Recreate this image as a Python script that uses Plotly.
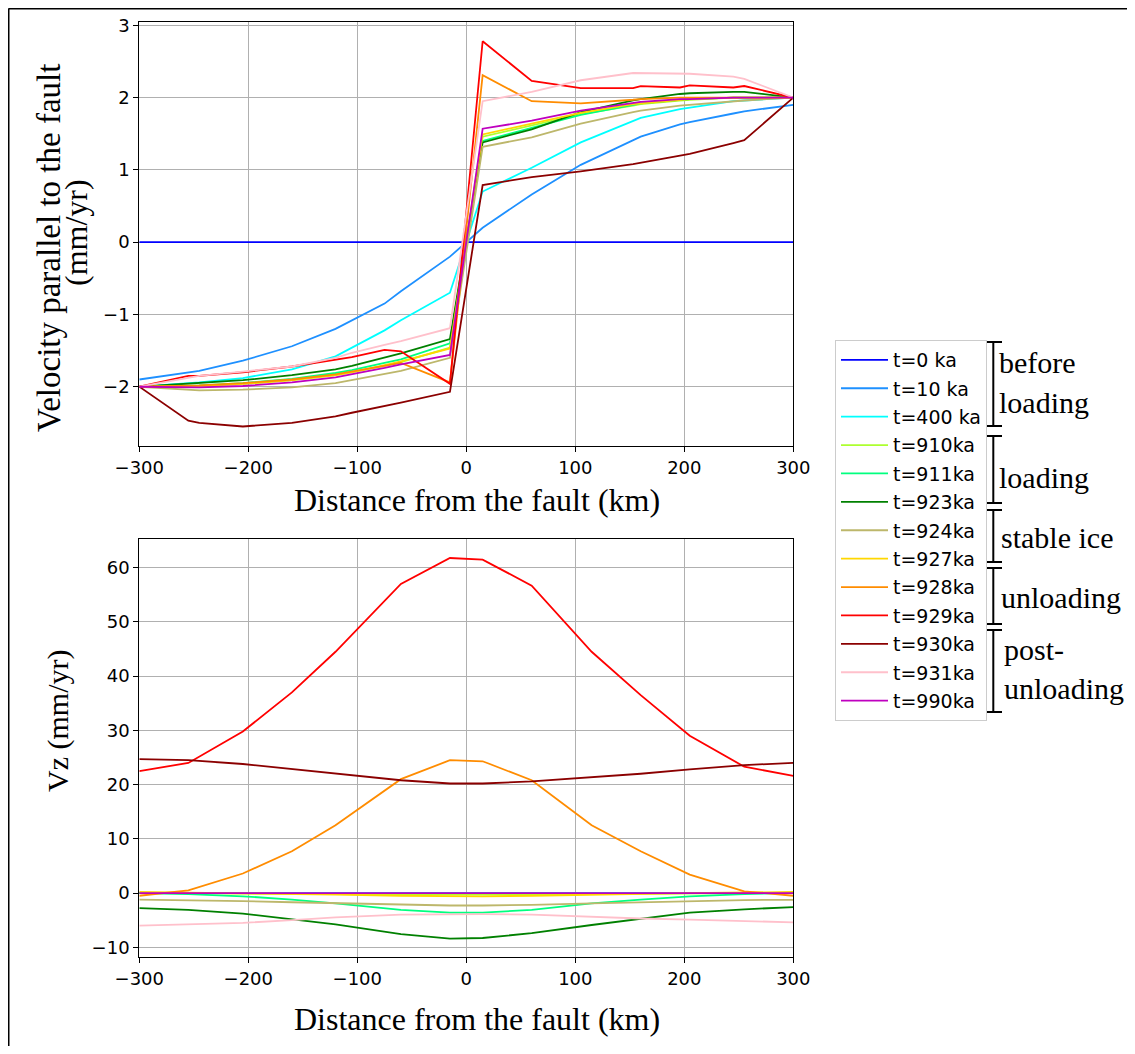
import plotly.graph_objects as go

# ---------------- data ----------------
x_top = [-300, -255, -245, -205, -160, -120, -105, -75, -60, -15,
         15, 60, 105, 153, 160, 196, 205, 245, 255, 300]
x_bot = [-300, -255, -205, -160, -120, -60, -15, 15, 60, 115, 160, 205, 255, 300]

labels = ["t=0 ka", "t=10 ka", "t=400 ka", "t=910ka", "t=911ka", "t=923ka",
          "t=924ka", "t=927ka", "t=928ka", "t=929ka", "t=930ka", "t=931ka", "t=990ka"]
colors = ["#0000FF", "#1E90FF", "#00FFFF", "#ADFF2F", "#00FF7F", "#008000",
          "#BDB76B", "#FFD700", "#FF8C00", "#FF0000", "#8B0000", "#FFC0CB", "#BF00BF"]

v_t0 = [0.0] * 20
v_t10 = [-1.90, -1.81, -1.78, -1.64, -1.44, -1.20, -1.08, -0.85, -0.68, -0.20,
         0.20, 0.66, 1.07, 1.42, 1.46, 1.63, 1.66, 1.78, 1.81, 1.90]
v_t400 = [-2.00, -1.95, -1.94, -1.88, -1.76, -1.58, -1.46, -1.22, -1.08, -0.70,
          0.70, 1.03, 1.38, 1.68, 1.72, 1.84, 1.86, 1.95, 1.96, 2.00]
v_t910 = [-2.00, -1.99, -1.99, -1.96, -1.91, -1.84, -1.80, -1.71, -1.66, -1.46,
          1.46, 1.62, 1.77, 1.89, 1.91, 1.96, 1.97, 2.00, 2.00, 2.00]
v_t911 = [-2.00, -1.98, -1.98, -1.95, -1.89, -1.81, -1.77, -1.67, -1.62, -1.40,
          1.40, 1.58, 1.76, 1.90, 1.92, 1.97, 1.98, 2.00, 2.00, 2.00]
v_t923 = [-2.00, -1.96, -1.95, -1.91, -1.84, -1.76, -1.71, -1.60, -1.54, -1.34,
          1.38, 1.56, 1.80, 1.96, 1.98, 2.05, 2.06, 2.08, 2.08, 2.00]
v_t924 = [-2.00, -2.04, -2.05, -2.04, -2.01, -1.95, -1.91, -1.83, -1.78, -1.60,
          1.32, 1.45, 1.64, 1.80, 1.82, 1.89, 1.90, 1.95, 1.96, 2.00]
v_t927 = [-2.00, -1.99, -1.99, -1.96, -1.91, -1.84, -1.80, -1.70, -1.65, -1.47,
          1.49, 1.64, 1.79, 1.91, 1.92, 1.97, 1.98, 2.00, 2.00, 2.00]
v_t928 = [-2.00, -1.98, -1.98, -1.95, -1.90, -1.83, -1.79, -1.70, -1.67, -1.94,
          2.31, 1.95, 1.92, 1.97, 1.98, 2.00, 2.00, 2.00, 2.00, 2.00]
v_t929 = [-2.00, -1.85, -1.85, -1.80, -1.72, -1.62, -1.59, -1.49, -1.51, -1.96,
          2.78, 2.23, 2.13, 2.13, 2.16, 2.14, 2.17, 2.14, 2.16, 2.00]
v_t930 = [-2.00, -2.47, -2.50, -2.55, -2.50, -2.41, -2.36, -2.27, -2.22, -2.07,
          0.79, 0.90, 0.98, 1.08, 1.10, 1.20, 1.22, 1.37, 1.41, 2.00]
v_t931 = [-2.00, -1.87, -1.85, -1.79, -1.72, -1.60, -1.53, -1.42, -1.37, -1.19,
          1.95, 2.08, 2.24, 2.34, 2.34, 2.33, 2.33, 2.29, 2.26, 2.00]
v_t990 = [-2.00, -2.01, -2.01, -1.99, -1.94, -1.87, -1.83, -1.74, -1.69, -1.56,
          1.57, 1.68, 1.82, 1.93, 1.94, 1.98, 1.98, 2.00, 2.00, 2.00]

vz_t0 = [0.0] * 14
vz_t10 = [0.0] * 14
vz_t400 = [0.0] * 14
vz_t910 = [0.0, -0.05, -0.1, -0.15, -0.2, -0.25, -0.3, -0.3, -0.25, -0.2, -0.15, -0.1, -0.05, 0.0]
vz_t911 = [0.0, -0.2, -0.6, -1.2, -1.9, -3.1, -3.6, -3.6, -3.1, -1.9, -1.2, -0.6, -0.2, 0.0]
vz_t923 = [-2.8, -3.1, -3.8, -4.8, -5.8, -7.6, -8.4, -8.3, -7.4, -5.9, -4.8, -3.6, -3.0, -2.6]
vz_t924 = [-1.2, -1.3, -1.5, -1.7, -1.9, -2.2, -2.3, -2.3, -2.2, -1.9, -1.7, -1.5, -1.3, -1.25]
vz_t927 = [0.2, 0.1, 0.0, -0.1, -0.3, -0.5, -0.6, -0.6, -0.5, -0.3, -0.1, 0.0, 0.1, 0.2]
vz_t928 = [-0.5, 0.5, 3.6, 7.7, 12.5, 21.0, 24.5, 24.3, 20.8, 12.5, 7.7, 3.4, 0.3, -0.5]
vz_t929 = [22.5, 24.0, 29.8, 37.0, 44.5, 57.0, 61.8, 61.5, 56.7, 44.5, 36.5, 29.0, 23.3, 21.6]
vz_t930 = [24.7, 24.5, 23.8, 22.9, 22.1, 20.8, 20.2, 20.2, 20.6, 21.3, 22.0, 22.8, 23.6, 24.0]
vz_t931 = [-6.0, -5.8, -5.5, -5.0, -4.5, -4.0, -3.9, -3.9, -4.0, -4.4, -4.7, -4.9, -5.1, -5.4]
vz_t990 = [0.0] * 14

top_series = [v_t0, v_t10, v_t400, v_t910, v_t911, v_t923, v_t924, v_t927,
              v_t928, v_t929, v_t930, v_t931, v_t990]
bot_series = [vz_t0, vz_t10, vz_t400, vz_t910, vz_t911, vz_t923, vz_t924, vz_t927,
              vz_t928, vz_t929, vz_t930, vz_t931, vz_t990]

groups = [(342, 426), (436, 503), (510, 562), (568, 624), (630, 712)]
bracket_texts = [("before", 997, 362), ("loading", 997, 402), ("loading", 997, 477),
                 ("stable ice", 999, 537), ("unloading", 999, 597),
                 ("post-", 1002, 649), ("unloading", 1002, 688)]

# ---------------- figure ----------------
# the page body has an 8px margin; screen pixel P maps to figure pixel P - OFF
OFF = 8
W, H = 1135 - 2 * OFF, 1054 - 2 * OFF
fig = go.Figure()


def px_x(p):
    return (p - OFF) / W


def px_y(p):
    return 1 - (p - OFF) / H


for i, (lab, col) in enumerate(zip(labels, colors)):
    fig.add_trace(go.Scatter(x=x_top, y=top_series[i], mode="lines", name=lab,
                             line=dict(color=col, width=1.8), legendgroup=str(i),
                             xaxis="x", yaxis="y"))
for i, (lab, col) in enumerate(zip(labels, colors)):
    fig.add_trace(go.Scatter(x=x_bot, y=bot_series[i], mode="lines", name=lab,
                             line=dict(color=col, width=1.8), legendgroup=str(i),
                             showlegend=False, xaxis="x2", yaxis="y2"))

tickfont = dict(family="DejaVu Sans", size=18, color="black")
axcommon = dict(showline=True, linecolor="black", linewidth=1.2, mirror=True,
                ticks="outside", ticklen=5, tickcolor="black", tickwidth=1.2,
                showgrid=True, gridcolor="#b0b0b0", gridwidth=1, zeroline=False,
                tickfont=tickfont, automargin=False)

x0, x1 = px_x(139.3), px_x(793.3)
fig.update_layout(
    width=W, height=H, autosize=False,
    margin=dict(l=0, r=0, t=0, b=0, pad=0),
    paper_bgcolor="white", plot_bgcolor="white",
    xaxis=dict(domain=[x0, x1], range=[-300, 300], dtick=100, anchor="y", **axcommon),
    yaxis=dict(domain=[px_y(446), px_y(21.7)], range=[-2.82, 3.05], dtick=1,
               anchor="x", **axcommon),
    xaxis2=dict(domain=[x0, x1], range=[-300, 300], dtick=100, anchor="y2", **axcommon),
    yaxis2=dict(domain=[px_y(957), px_y(539)], range=[-11.8, 65.3], dtick=10,
                anchor="x2", **axcommon),
    legend=dict(x=px_x(835), y=px_y(340), xanchor="left", yanchor="top",
                bgcolor="white", bordercolor="#cccccc", borderwidth=1,
                font=dict(family="DejaVu Sans", size=19, color="black"),
                tracegroupgap=0.7, itemwidth=47),
    showlegend=True,
)

serif = "Liberation Serif"
ann = []
ann.append(dict(text="Distance from the fault (km)", x=px_x(477), y=px_y(500),
                xref="paper", yref="paper", showarrow=False, xanchor="center",
                yanchor="middle", font=dict(family=serif, size=32, color="black")))
ann.append(dict(text="Distance from the fault (km)", x=px_x(477), y=px_y(1019),
                xref="paper", yref="paper", showarrow=False, xanchor="center",
                yanchor="middle", font=dict(family=serif, size=32, color="black")))
ann.append(dict(text="Velocity parallel to the fault", x=px_x(49), y=px_y(248),
                xref="paper", yref="paper", showarrow=False, textangle=-90,
                xanchor="center", yanchor="middle",
                font=dict(family=serif, size=33, color="black")))
ann.append(dict(text="(mm/yr)", x=px_x(76), y=px_y(233),
                xref="paper", yref="paper", showarrow=False, textangle=-90,
                xanchor="center", yanchor="middle",
                font=dict(family=serif, size=32, color="black")))
ann.append(dict(text="Vz (mm/yr)", x=px_x(58), y=px_y(721),
                xref="paper", yref="paper", showarrow=False, textangle=-90,
                xanchor="center", yanchor="middle",
                font=dict(family=serif, size=30, color="black")))

shapes = []
# figure frame (top and left edges)
shapes.append(dict(type="line", xref="paper", yref="paper", x0=px_x(8.5), x1=1,
                   y0=px_y(8.5), y1=px_y(8.5), line=dict(color="black", width=2)))
shapes.append(dict(type="line", xref="paper", yref="paper", x0=px_x(8.5), x1=px_x(8.5),
                   y0=px_y(8.5), y1=0, line=dict(color="black", width=2)))

bx = 993.3
for (ya, yb) in groups:
    shapes.append(dict(type="line", xref="paper", yref="paper", x0=px_x(bx), x1=px_x(bx),
                       y0=px_y(ya), y1=px_y(yb), line=dict(color="black", width=2)))
    for yy in (ya, yb):
        shapes.append(dict(type="line", xref="paper", yref="paper", x0=px_x(985),
                           x1=px_x(1002), y0=px_y(yy), y1=px_y(yy),
                           line=dict(color="black", width=2)))

for t, xx, yy in bracket_texts:
    ann.append(dict(text=t, x=px_x(xx), y=px_y(yy), xref="paper", yref="paper",
                    showarrow=False, xanchor="left", yanchor="middle",
                    font=dict(family=serif, size=30, color="black")))

fig.update_layout(annotations=ann, shapes=shapes)
fig.write_html("out.html")
